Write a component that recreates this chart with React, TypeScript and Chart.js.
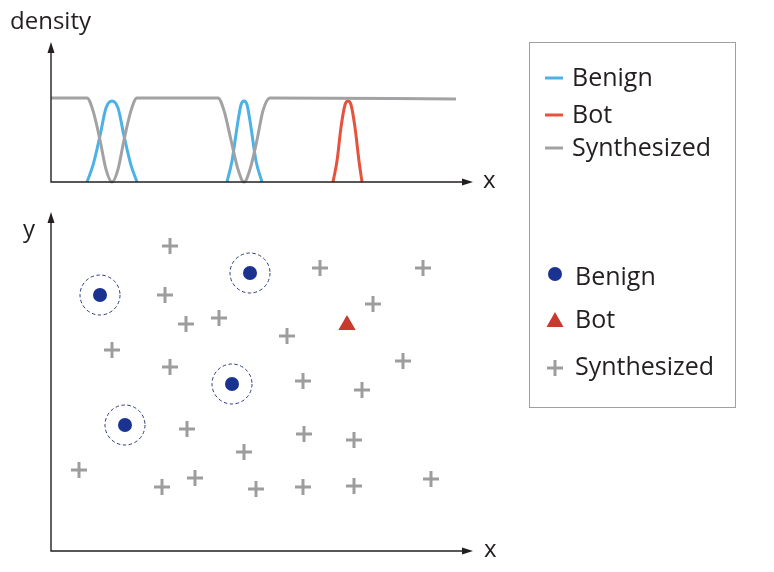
import { useEffect, useRef } from "react"
import { Chart, registerables } from "chart.js"

Chart.register(...registerables)

// density panel (x in px-like units from the axis origin, y relative to the synthesized level)
const synthX = [0, 36, 42, 49, 55, 61, 67, 73, 80, 86, 167, 173, 180, 187, 193, 199, 206, 212, 219, 405]
const synthY = [1, 1, 0.85, 0.5, 0.15, 0, 0.15, 0.5, 0.85, 1, 1, 0.85, 0.5, 0.15, 0, 0.15, 0.5, 0.85, 1, 0.988]
const benignAX = [36, 42, 49, 55, 61, 67, 73, 80, 86]
const benignAY = [0, 0.2, 0.55, 0.88, 0.964, 0.88, 0.55, 0.2, 0]
const benignBX = [176, 181, 186, 190, 193, 196, 200, 205, 211]
const benignBY = [0, 0.25, 0.65, 0.92, 0.964, 0.92, 0.65, 0.25, 0]
const botX = [282, 286, 290, 294, 297, 300, 304, 308, 311]
const botY = [0, 0.25, 0.65, 0.92, 0.964, 0.92, 0.65, 0.25, 0]

// scatter panel
const benignPts = [
  { x: 49, y: 256 },
  { x: 199, y: 278 },
  { x: 181, y: 167 },
  { x: 74, y: 126 },
]
const botPts = [{ x: 296, y: 226 }]
const synthPts = [
  { x: 119, y: 305 }, { x: 269, y: 283 }, { x: 372, y: 283 }, { x: 114, y: 256 },
  { x: 322, y: 247 }, { x: 135, y: 227 }, { x: 168, y: 233 }, { x: 236, y: 215 },
  { x: 61, y: 201 }, { x: 119, y: 184 }, { x: 352, y: 190 }, { x: 252, y: 170 },
  { x: 311, y: 161 }, { x: 136, y: 122 }, { x: 253, y: 117 }, { x: 303, y: 111 },
  { x: 193, y: 99 }, { x: 28, y: 81 }, { x: 144, y: 73 }, { x: 111, y: 64 },
  { x: 205, y: 62 }, { x: 252, y: 64 }, { x: 303, y: 65 }, { x: 380, y: 72 },
]

const W = 774
const H = 572
const INK = "#231f20"
const FONT = "'Open Sans', sans-serif"
const BLUE = "#4cb2e6"
const RED = "#e5533c"
const GRAY = "#a2a2a4"
const DOT = "#1a3391"
const TRI = "#c8392e"
const PLUS = "#9d9d9f"

const zip = (xs: number[], ys: number[]) => xs.map((x, i) => ({ x, y: ys[i] }))

function arrowAxes(xLabel: string, yLabel: string, yLabelPos: [number, number], xLabelPos: [number, number]) {
  return {
    id: "arrowAxes",
    afterDraw(chart: Chart) {
      const { ctx, chartArea } = chart
      const { left, right, top, bottom } = chartArea
      ctx.save()
      ctx.strokeStyle = INK
      ctx.fillStyle = INK
      ctx.lineWidth = 1.4
      ctx.beginPath()
      ctx.moveTo(left, top + 8)
      ctx.lineTo(left, bottom)
      ctx.lineTo(right - 8, bottom)
      ctx.stroke()
      ctx.beginPath()
      ctx.moveTo(left, top)
      ctx.lineTo(left - 3.5, top + 11)
      ctx.lineTo(left + 3.5, top + 11)
      ctx.closePath()
      ctx.fill()
      ctx.beginPath()
      ctx.moveTo(right, bottom)
      ctx.lineTo(right - 11, bottom - 3.5)
      ctx.lineTo(right - 11, bottom + 3.5)
      ctx.closePath()
      ctx.fill()
      ctx.font = `24px ${FONT}`
      ctx.textBaseline = "alphabetic"
      ctx.fillText(yLabel, yLabelPos[0], yLabelPos[1])
      ctx.fillText(xLabel, xLabelPos[0], xLabelPos[1])
      ctx.restore()
    },
  }
}

const ringsPlugin = {
  id: "rings",
  afterDatasetsDraw(chart: Chart) {
    const { ctx } = chart
    const meta = chart.getDatasetMeta(0)
    ctx.save()
    ctx.strokeStyle = "#2b3a80"
    ctx.lineWidth = 1
    ctx.setLineDash([3.5, 2.5])
    meta.data.forEach((p) => {
      ctx.beginPath()
      ctx.arc(p.x, p.y, 20, 0, Math.PI * 2)
      ctx.stroke()
    })
    ctx.restore()
  },
}

const legendPlugin = {
  id: "boxLegend",
  afterDraw(chart: Chart) {
    const { ctx } = chart
    ctx.save()
    ctx.strokeStyle = "#a0a0a0"
    ctx.lineWidth = 1
    ctx.strokeRect(529.5, 42.5, 206, 365)
    ctx.font = `25px ${FONT}`
    ctx.fillStyle = INK
    ctx.textBaseline = "alphabetic"
    const lines: [string, string, number][] = [
      ["Benign", BLUE, 78],
      ["Bot", RED, 115],
      ["Synthesized", GRAY, 148],
    ]
    lines.forEach(([label, color, y]) => {
      ctx.strokeStyle = color
      ctx.lineWidth = 3
      ctx.beginPath()
      ctx.moveTo(545, y)
      ctx.lineTo(563, y)
      ctx.stroke()
      ctx.fillText(label, 572, y + 8)
    })
    // marker legend
    ctx.fillStyle = DOT
    ctx.beginPath()
    ctx.arc(555, 274, 7, 0, Math.PI * 2)
    ctx.fill()
    ctx.fillStyle = TRI
    ctx.beginPath()
    ctx.moveTo(555, 312)
    ctx.lineTo(563.5, 327)
    ctx.lineTo(546.5, 327)
    ctx.closePath()
    ctx.fill()
    ctx.strokeStyle = PLUS
    ctx.lineWidth = 3
    ctx.beginPath()
    ctx.moveTo(547, 368)
    ctx.lineTo(563, 368)
    ctx.moveTo(555, 360)
    ctx.lineTo(555, 376)
    ctx.stroke()
    ctx.fillStyle = INK
    ctx.fillText("Benign", 575, 285)
    ctx.fillText("Bot", 575, 328)
    ctx.fillText("Synthesized", 575, 375)
    ctx.restore()
  },
}

export default function App() {
  const topRef = useRef<HTMLCanvasElement | null>(null)
  const bottomRef = useRef<HTMLCanvasElement | null>(null)

  useEffect(() => {
    if (!topRef.current || !bottomRef.current) return
    const lineDs = (label: string, xs: number[], ys: number[], color: string) => ({
      label,
      data: zip(xs, ys),
      showLine: true,
      borderColor: color,
      borderWidth: 3,
      pointRadius: 0,
      cubicInterpolationMode: "monotone" as const,
      clip: false as const,
    })

    const topChart = new Chart(topRef.current, {
      type: "scatter",
      data: {
        datasets: [
          lineDs("Synthesized", synthX, synthY, GRAY),
          lineDs("Benign", benignAX, benignAY, BLUE),
          lineDs("Benign", benignBX, benignBY, BLUE),
          lineDs("Bot", botX, botY, RED),
        ],
      },
      options: {
        responsive: false,
        animation: false,
        layout: { padding: { left: 51, top: 42, right: W - 473, bottom: H - 182 } },
        plugins: { legend: { display: false }, tooltip: { enabled: false } },
        scales: {
          x: { type: "linear", min: 0, max: 422, display: false },
          y: { min: 0, max: 140 / 84, display: false },
        },
      },
      plugins: [arrowAxes("x", "density", [10, 29], [483, 188])],
    })

    const bottomChart = new Chart(bottomRef.current, {
      type: "scatter",
      data: {
        datasets: [
          {
            label: "Benign",
            data: benignPts,
            pointStyle: "circle",
            pointRadius: 7,
            backgroundColor: DOT,
            borderColor: DOT,
            borderWidth: 0,
          },
          {
            label: "Bot",
            data: botPts,
            pointStyle: "triangle",
            pointRadius: 10,
            backgroundColor: TRI,
            borderColor: TRI,
            borderWidth: 0,
          },
          {
            label: "Synthesized",
            data: synthPts,
            pointStyle: "cross",
            pointRadius: 8,
            borderColor: PLUS,
            borderWidth: 3,
          },
        ],
      },
      options: {
        responsive: false,
        animation: false,
        layout: { padding: { left: 51, top: 212, right: W - 473, bottom: H - 551 } },
        plugins: { legend: { display: false }, tooltip: { enabled: false } },
        scales: {
          x: { type: "linear", min: 0, max: 422, display: false },
          y: { min: 0, max: 339, display: false },
        },
      },
      plugins: [ringsPlugin, arrowAxes("x", "y", [23, 237], [484, 557]), legendPlugin],
    })

    return () => {
      topChart.destroy()
      bottomChart.destroy()
    }
  }, [])

  return (
    <div style={{ position: "absolute", left: 0, top: 0, width: W, height: H, background: "#fff" }}>
      <canvas ref={bottomRef} width={W} height={H} style={{ position: "absolute", left: 0, top: 0 }} />
      <canvas ref={topRef} width={W} height={H} style={{ position: "absolute", left: 0, top: 0 }} />
    </div>
  )
}
